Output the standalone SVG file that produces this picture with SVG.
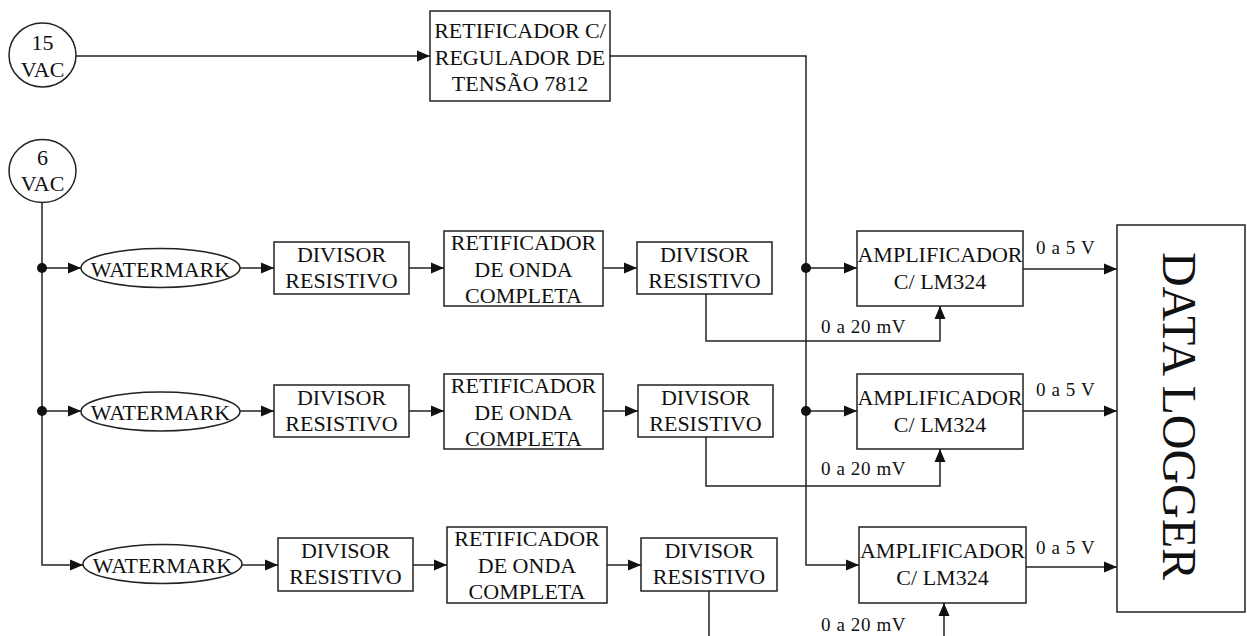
<svg xmlns="http://www.w3.org/2000/svg" width="1247" height="636" viewBox="0 0 1247 636" font-family="'Liberation Serif', 'Times New Roman', serif">
<defs>
<marker id="arr" markerUnits="userSpaceOnUse" markerWidth="14" markerHeight="12" refX="13" refY="6" orient="auto">
<path d="M0,0.5 L13,6 L0,11.5 z" fill="#111"/>
</marker>
<style>
.b{fill:#fff;stroke:#222;stroke-width:1.5}
.t{font-size:22px;fill:#111;text-anchor:middle}
.s{font-size:19px;fill:#111;letter-spacing:0.6px}
.c{fill:none;stroke:#222;stroke-width:1.5}
.a{fill:none;stroke:#222;stroke-width:1.5;marker-end:url(#arr)}
.d{fill:#111}
</style>
</defs>
<rect width="1247" height="636" fill="#fff"/>
<g id="connectors">
<path class="a" d="M76,56 H430"/>
<path class="a" d="M610,56 H806 V565 H859"/>
<path class="a" d="M42,203 V565 H83"/>
<path class="a" d="M42,268 H81"/>
<path class="a" d="M240,268 H274"/>
<path class="a" d="M409,268 H444"/>
<path class="a" d="M603,268 H637"/>
<path class="a" d="M806,268 H857"/>
<path class="a" d="M1023,269 H1117"/>
<path class="a" d="M706,294 V341 H940 V306"/>
<path class="a" d="M42,411 H81"/>
<path class="a" d="M240,411 H274"/>
<path class="a" d="M409,411 H444"/>
<path class="a" d="M603,411 H638"/>
<path class="a" d="M806,411 H857"/>
<path class="a" d="M1023,411 H1117"/>
<path class="a" d="M706,437 V486 H940 V449"/>
<path class="a" d="M242,565 H278"/>
<path class="a" d="M413,565 H447"/>
<path class="a" d="M607,565 H641"/>
<path class="a" d="M1026,567 H1117"/>
<path class="c" d="M709,591 V636"/>
<path class="a" d="M944,636 V603"/>
<circle class="d" cx="42" cy="268" r="5"/>
<circle class="d" cx="42" cy="411" r="5"/>
<circle class="d" cx="806" cy="268" r="5"/>
<circle class="d" cx="806" cy="411" r="5"/>
<text class="s" x="1036" y="254">0 a 5 V</text>
<text class="s" x="1036" y="396">0 a 5 V</text>
<text class="s" x="1036" y="554">0 a 5 V</text>
<text class="s" x="821" y="333">0 a 20 mV</text>
<text class="s" x="821" y="475">0 a 20 mV</text>
<text class="s" x="821" y="631">0 a 20 mV</text>
</g>
<g id="vac15">
<ellipse class="b" cx="42.5" cy="55" rx="33.5" ry="32"/>
<text class="t" x="42.5" y="50">15</text>
<text class="t" x="42.5" y="77">VAC</text>
</g>
<g id="vac6">
<ellipse class="b" cx="42.5" cy="171" rx="33.5" ry="31.5"/>
<text class="t" x="42.5" y="165">6</text>
<text class="t" x="42.5" y="191">VAC</text>
</g>
<g id="reg7812">
<rect class="b" x="430" y="11" width="180" height="90"/>
<text class="t" x="520" y="38">RETIFICADOR C/</text>
<text class="t" x="520" y="65">REGULADOR DE</text>
<text class="t" x="520" y="91">TENSÃO 7812</text>
</g>
<g id="wm1">
<ellipse class="b" cx="160.5" cy="268" rx="79.5" ry="19.5"/>
<text class="t" x="160.5" y="277">WATERMARK</text>
</g>
<g id="div1a">
<rect class="b" x="274" y="242" width="135" height="52"/>
<text class="t" x="341.5" y="262">DIVISOR</text>
<text class="t" x="341.5" y="288">RESISTIVO</text>
</g>
<g id="ret1">
<rect class="b" x="444" y="231" width="159" height="75"/>
<text class="t" x="523.5" y="250">RETIFICADOR</text>
<text class="t" x="523.5" y="277">DE ONDA</text>
<text class="t" x="523.5" y="303">COMPLETA</text>
</g>
<g id="div1b">
<rect class="b" x="637" y="242" width="135" height="52"/>
<text class="t" x="704.5" y="262">DIVISOR</text>
<text class="t" x="704.5" y="288">RESISTIVO</text>
</g>
<g id="amp1">
<rect class="b" x="857" y="231" width="166" height="75"/>
<text class="t" x="940" y="262">AMPLIFICADOR</text>
<text class="t" x="940" y="289">C/ LM324</text>
</g>
<g id="wm2">
<ellipse class="b" cx="160.5" cy="411.5" rx="79.5" ry="19.5"/>
<text class="t" x="160.5" y="420">WATERMARK</text>
</g>
<g id="div2a">
<rect class="b" x="274" y="385" width="135" height="52"/>
<text class="t" x="341.5" y="405">DIVISOR</text>
<text class="t" x="341.5" y="431">RESISTIVO</text>
</g>
<g id="ret2">
<rect class="b" x="444" y="374" width="159" height="75"/>
<text class="t" x="523.5" y="393">RETIFICADOR</text>
<text class="t" x="523.5" y="420">DE ONDA</text>
<text class="t" x="523.5" y="446">COMPLETA</text>
</g>
<g id="div2b">
<rect class="b" x="638" y="385" width="135" height="52"/>
<text class="t" x="705.5" y="405">DIVISOR</text>
<text class="t" x="705.5" y="431">RESISTIVO</text>
</g>
<g id="amp2">
<rect class="b" x="857" y="374" width="166" height="75"/>
<text class="t" x="940" y="405">AMPLIFICADOR</text>
<text class="t" x="940" y="432">C/ LM324</text>
</g>
<g id="wm3">
<ellipse class="b" cx="162.5" cy="564" rx="79.5" ry="19.5"/>
<text class="t" x="162.5" y="573">WATERMARK</text>
</g>
<g id="div3a">
<rect class="b" x="278" y="538" width="135" height="53"/>
<text class="t" x="345.5" y="558">DIVISOR</text>
<text class="t" x="345.5" y="584">RESISTIVO</text>
</g>
<g id="ret3">
<rect class="b" x="447" y="527" width="160" height="76"/>
<text class="t" x="527" y="546">RETIFICADOR</text>
<text class="t" x="527" y="573">DE ONDA</text>
<text class="t" x="527" y="599">COMPLETA</text>
</g>
<g id="div3b">
<rect class="b" x="641" y="538" width="136" height="53"/>
<text class="t" x="709" y="558">DIVISOR</text>
<text class="t" x="709" y="584">RESISTIVO</text>
</g>
<g id="amp3">
<rect class="b" x="859" y="527" width="167" height="76"/>
<text class="t" x="942.5" y="558">AMPLIFICADOR</text>
<text class="t" x="942.5" y="585">C/ LM324</text>
</g>
<g id="datalogger">
<rect class="b" x="1117" y="225" width="128" height="387"/>
<text class="t" style="font-size:48px" transform="translate(1163,416) rotate(90)">DATA LOGGER</text>
</g>
</svg>
